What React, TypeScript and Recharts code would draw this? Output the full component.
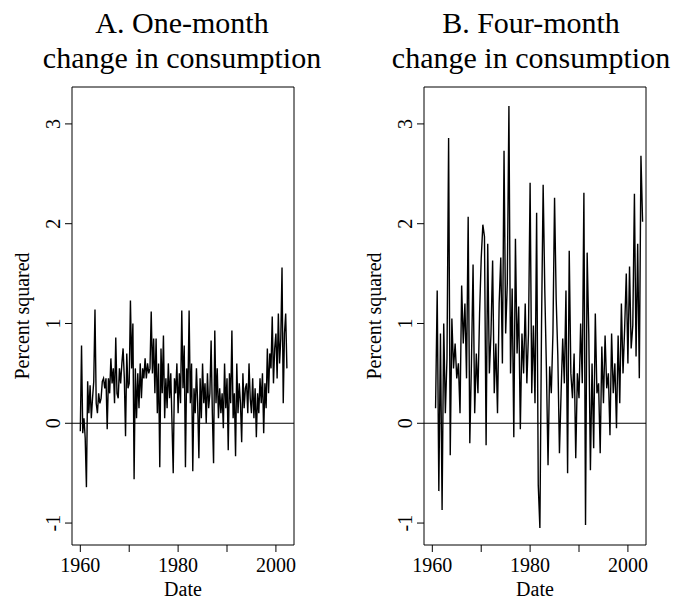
import React from "react";
import { LineChart, Line, XAxis, YAxis, ReferenceLine, ReferenceArea } from "recharts";

const X_TICKS = [1960, 1970, 1980, 1990, 2000];
const X_LABELED = [1960, 1980, 2000];
const Y_TICKS = [-1, 0, 1, 2, 3];
const X_DOMAIN: [number, number] = [1958.3, 2003.7];
const Y_DOMAIN: [number, number] = [-1.22, 3.37];

// panel A: one-month change, read quarterly from 1960
const ONE_MONTH_START = 1960;
const ONE_MONTH_STEP = 0.25;
const oneMonth = [
  -0.08, 0.78, -0.1, 0.05,
  -0.15, -0.64, 0.42, 0.1,
  0.38, 0.05, 0.25, 0.42,
  1.14, 0.2, 0.1, 0.3,
  0.2, 0.25, 0.42, 0.45,
  0.35, 0.45, -0.06, 0.45,
  0.3, 0.65, 0.4, 0.55,
  0.2, 0.86, 0.3, 0.25,
  0.55, 0.4, 0.6, 0.75,
  0.45, -0.13, 0.7, 0.35,
  0.4, 1.23, 0.55, 1.0,
  -0.56, 0.55, 0.05, 0.5,
  0.15, 0.6, 0.25, 0.55,
  0.45, 0.65, 0.45, 0.6,
  0.5, 0.55, 1.12, 0.5,
  0.85, 0.3, 0.85, 0.1,
  0.6, -0.44, 0.75, 0.3,
  0.88, 0.05, 0.45, 0.15,
  0.6, 0.25, 0.5, 0.0,
  -0.5, 0.45, 0.3, 0.6,
  0.1, 0.5, 0.2, 1.13,
  0.35, 0.78, -0.44, 0.55,
  0.3, 1.13, 0.2, 0.6,
  -0.48, 0.35, 0.1, 0.55,
  0.2, -0.35, 0.45, 0.05,
  0.6, 0.2, 0.4, 0.0,
  0.5, 0.15, 0.3, 0.83,
  0.1, -0.4, 0.93, 0.2,
  0.55, 0.05, 0.35, 0.1,
  0.3, -0.05, 0.6, 0.15,
  0.45, -0.27, 0.5, 0.2,
  0.93, 0.05, 0.3, -0.33,
  0.6, 0.1, 0.4, 0.2,
  -0.19, 0.5, 0.15, 0.35,
  0.4, 0.1, 0.6, 0.25,
  0.1, 0.45, 0.05, 0.35,
  -0.14, 0.3, 0.1, 0.45,
  0.2, 0.5, -0.1, 0.4,
  0.15, 0.75, 0.3, 0.7,
  0.55, 1.07, 0.4, 0.75,
  0.9, 0.45, 1.1, 0.6,
  0.85, 1.56, 0.2, 0.9,
  1.1, 0.55,
];

// panel B: four-month change, three readings a year
const FOUR_MONTH_START = 1960 + 2 / 3;
const FOUR_MONTH_STEP = 1 / 3;
const fourMonth = [
  0.15,
  1.33, -0.68, 0.9,
  -0.87, 1.0, 0.1,
  0.65, 2.86, -0.32,
  1.05, 0.55, 0.8,
  0.45, 0.6, 0.1,
  1.38, 0.8, 1.2,
  0.45, 2.07, -0.2,
  0.6, 1.59, 0.1,
  0.7, 0.3, 1.1,
  1.65, 1.99, 1.87,
  -0.22, 1.8, 0.5,
  0.9, 1.63, 0.3,
  0.8, 0.1, 1.2,
  1.66, 0.6, 2.73,
  0.9, 1.4, 3.18,
  0.5, 1.35, -0.14,
  1.85, 0.7, 1.17,
  -0.06, 0.9, 0.5,
  1.2, 0.4, 0.9,
  2.41, 0.3, 0.98,
  0.2, 2.11, -0.62,
  -1.05, 0.98, 2.39,
  1.34, 0.55, -0.42,
  0.57, 0.3, 0.9,
  2.26, 1.24, 0.68,
  -0.3, 0.3, 0.85,
  0.4, 1.33, -0.5,
  1.73, 0.5, 0.25,
  0.7, -0.35, 0.5,
  0.25, 1.0, 0.4,
  2.31, -1.02, 1.71,
  0.9, -0.47, 0.6,
  -0.25, 1.1, 0.3,
  0.4, -0.3, 0.77,
  0.2, 0.88, 0.35,
  0.5, -0.12, 0.9,
  0.3, 0.6, -0.05,
  0.88, 0.2, 1.2,
  0.5, 0.95, 1.5,
  0.6, 1.57, 0.75,
  0.98, 2.3, 0.67,
  1.8, 0.45, 2.68,
  2.02,
];

const FONT = '"Liberation Serif", "Times New Roman", serif';

function toRows(values: number[], start: number, step: number) {
  return values.map((v, i) => ({ date: start + i * step, value: v }));
}

function XTick(props: any) {
  const { x, y, payload } = props;
  if (!X_LABELED.includes(payload.value)) return null;
  return (
    <text x={x} y={y} dy="0.75em" textAnchor="middle" fontSize={20} fontFamily={FONT} fill="#000">
      {payload.value}
    </text>
  );
}

function YTick(props: any) {
  const { x, y, payload } = props;
  return (
    <text
      transform={`translate(${x - 1},${y}) rotate(-90)`}
      textAnchor="middle"
      fontSize={20}
      fontFamily={FONT}
      fill="#000"
    >
      {payload.value}
    </text>
  );
}

function Panel(props: { rows: { date: number; value: number }[]; left: number; right: number }) {
  return (
    <LineChart
      width={339}
      height={599}
      data={props.rows}
      margin={{ top: 87, right: props.right, bottom: 14, left: props.left }}
    >
      <ReferenceArea
        x1={X_DOMAIN[0]}
        x2={X_DOMAIN[1]}
        y1={Y_DOMAIN[0]}
        y2={Y_DOMAIN[1]}
        fill="none"
        stroke="#000"
        strokeWidth={1}
        ifOverflow="visible"
      />
      <XAxis
        dataKey="date"
        type="number"
        domain={X_DOMAIN}
        ticks={X_TICKS}
        allowDataOverflow
        axisLine={false}
        tickLine={{ stroke: "#000" }}
        tickSize={7}
        tickMargin={5}
        height={40}
        tick={<XTick />}
        interval={0}
      />
      <YAxis
        type="number"
        domain={Y_DOMAIN}
        ticks={Y_TICKS}
        allowDataOverflow
        axisLine={false}
        tickLine={{ stroke: "#000" }}
        tickSize={7}
        tickMargin={4}
        width={50}
        tick={<YTick />}
        interval={0}
      />
      <ReferenceLine y={0} stroke="#000" strokeWidth={1.2} />
      <Line
        type="linear"
        dataKey="value"
        stroke="#000"
        strokeWidth={1.4}
        dot={false}
        isAnimationActive={false}
      />
    </LineChart>
  );
}

function Label(props: { x: number; y: number; rotate?: boolean; size: number; children: React.ReactNode }) {
  return (
    <div
      style={{
        position: "absolute",
        left: props.x,
        top: props.y,
        transform: `translate(-50%, -50%)${props.rotate ? " rotate(-90deg)" : ""}`,
        whiteSpace: "nowrap",
        fontSize: props.size,
        fontFamily: FONT,
        lineHeight: 1,
        textAlign: "center",
      }}
    >
      {props.children}
    </div>
  );
}

export default function App() {
  const rowsA = toRows(oneMonth, ONE_MONTH_START, ONE_MONTH_STEP);
  const rowsB = toRows(fourMonth, FOUR_MONTH_START, FOUR_MONTH_STEP);
  return (
    <div style={{ position: "absolute", left: 0, top: 0, width: 678, height: 599, background: "#fff" }}>
      <div style={{ position: "absolute", left: 0, top: 0 }}>
        <Panel rows={rowsA} left={22} right={45} />
      </div>
      <div style={{ position: "absolute", left: 339, top: 0 }}>
        <Panel rows={rowsB} left={35} right={32} />
      </div>
      <Label x={182} y={23} size={30}>A. One-month</Label>
      <Label x={182} y={58} size={30}>change in consumption</Label>
      <Label x={531} y={23} size={30}>B. Four-month</Label>
      <Label x={531} y={58} size={30}>change in consumption</Label>
      <Label x={22} y={316} size={20} rotate>Percent squared</Label>
      <Label x={374} y={316} size={20} rotate>Percent squared</Label>
      <Label x={183} y={589} size={20}>Date</Label>
      <Label x={535} y={589} size={20}>Date</Label>
    </div>
  );
}
